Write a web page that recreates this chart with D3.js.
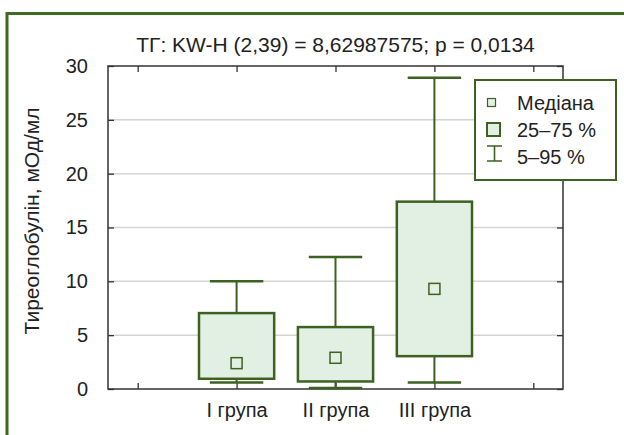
<!DOCTYPE html>
<html>
<head>
<meta charset="utf-8">
<script src="https://cdn.jsdelivr.net/npm/d3@7"></script>
<style>
  html, body { margin: 0; padding: 0; background: #fff; }
  svg text { font-family: "Liberation Sans", Arial, sans-serif; fill: #222; }
</style>
</head>
<body>
<svg id="chart" width="624" height="435"></svg>
<script>
"use strict";
var categories = ["I група", "II група", "III група"];
var p5 = [0.6, 0.1, 0.6];
var q25 = [0.95, 0.7, 3.05];
var medians = [2.4, 2.9, 9.3];
var q75 = [7.05, 5.75, 17.4];
var p95 = [10.0, 12.25, 28.9];
var yTicks = [0, 5, 10, 15, 20, 25, 30];
var xTicks = [0, 1, 2, 3, 4];
var legendLabels = ["Медіана", "25–75 %", "5–95 %"];
var titleText = "ТГ: KW-H (2,39) = 8,62987575; p = 0,0134";
var yTitle = "Тиреоглобулін, мОд/мл";

var green = "#3d6120", fill = "#e2f0e4", axisCol = "#333";
var svg = d3.select("#chart");

var m = { left: 108, right: 563, top: 66, bottom: 389 };
var x = d3.scaleLinear().domain([-0.3, 4.3]).range([m.left, m.right]);
var y = d3.scaleLinear().domain([0, 30]).range([m.bottom, m.top]);

// outer frame
svg.append("path").attr("d", "M7,435V13.5H624")
  .attr("fill", "none").attr("stroke", "#3e6b1f").attr("stroke-width", 3);

// grid
svg.append("g").selectAll("line").data(yTicks.slice(1, -1)).enter().append("line")
  .attr("x1", m.left).attr("x2", m.right)
  .attr("y1", function (d) { return y(d); }).attr("y2", function (d) { return y(d); })
  .attr("stroke", "#d4d4d4").attr("stroke-width", 1.5);

// axes (ticks inward on all sides)
function styleAxis(g) {
  g.select(".domain").remove();
  g.selectAll(".tick line").attr("stroke", axisCol).attr("stroke-width", 1.3);
  g.selectAll(".tick text").attr("font-size", 20).attr("fill", "#222")
    .attr("font-family", "Liberation Sans, Arial, sans-serif");
}
svg.append("g").attr("transform", "translate(" + m.left + ",0)")
  .call(d3.axisLeft(y).tickValues(yTicks).tickSize(-6).tickPadding(20))
  .call(styleAxis);
svg.append("g").attr("transform", "translate(" + m.right + ",0)")
  .call(d3.axisRight(y).tickValues(yTicks).tickSize(-6).tickFormat(""))
  .call(styleAxis);
svg.append("g").attr("transform", "translate(0," + m.top + ")")
  .call(d3.axisTop(x).tickValues(xTicks).tickSize(-6).tickFormat(""))
  .call(styleAxis);
svg.append("g").attr("transform", "translate(0," + m.bottom + ")")
  .call(d3.axisBottom(x).tickValues(xTicks).tickSize(-6).tickPadding(14)
    .tickFormat(function (d) { return categories[d - 1] || ""; }))
  .call(styleAxis);

svg.append("rect").attr("x", m.left).attr("y", m.top)
  .attr("width", m.right - m.left).attr("height", m.bottom - m.top)
  .attr("fill", "none").attr("stroke", axisCol).attr("stroke-width", 1.5);

// boxes
var boxW = x(0.38) - x(0), capW = x(0.27) - x(0);
var g = svg.append("g").selectAll("g").data(categories).enter().append("g");
g.append("line")
  .attr("x1", function (d, i) { return x(i + 1); }).attr("x2", function (d, i) { return x(i + 1); })
  .attr("y1", function (d, i) { return y(p5[i]); }).attr("y2", function (d, i) { return y(p95[i]); })
  .attr("stroke", green).attr("stroke-width", 2);
[p5, p95].forEach(function (arr) {
  g.append("line")
    .attr("x1", function (d, i) { return x(i + 1) - capW; }).attr("x2", function (d, i) { return x(i + 1) + capW; })
    .attr("y1", function (d, i) { return y(arr[i]); }).attr("y2", function (d, i) { return y(arr[i]); })
    .attr("stroke", green).attr("stroke-width", 2.5);
});
g.append("rect")
  .attr("x", function (d, i) { return x(i + 1) - boxW; })
  .attr("y", function (d, i) { return y(q75[i]); })
  .attr("width", 2 * boxW)
  .attr("height", function (d, i) { return y(q25[i]) - y(q75[i]); })
  .attr("fill", fill).attr("stroke", green).attr("stroke-width", 2.5);
g.append("rect")
  .attr("x", function (d, i) { return x(i + 1) - 5.5; })
  .attr("y", function (d, i) { return y(medians[i]) - 5.5; })
  .attr("width", 11).attr("height", 11)
  .attr("fill", fill).attr("stroke", green).attr("stroke-width", 1.5);

// title
svg.append("text").attr("x", (m.left + m.right) / 2).attr("y", 52)
  .attr("text-anchor", "middle").attr("font-size", 21).text(titleText);
svg.append("text").attr("transform", "translate(39,221) rotate(-90)")
  .attr("text-anchor", "middle").attr("font-size", 21).text(yTitle);

// legend
var lg = svg.append("g");
lg.append("rect").attr("x", 475).attr("y", 80).attr("width", 141).attr("height", 100)
  .attr("fill", "#fff").attr("stroke", green).attr("stroke-width", 2);
lg.append("rect").attr("x", 487.5).attr("y", 98.5).attr("width", 8).attr("height", 8)
  .attr("fill", fill).attr("stroke", green).attr("stroke-width", 1.2);
lg.append("rect").attr("x", 487).attr("y", 123).attr("width", 13).attr("height", 13)
  .attr("fill", fill).attr("stroke", green).attr("stroke-width", 2);
lg.append("path").attr("d", "M487,146H502M494.5,146V161M487,161H502")
  .attr("fill", "none").attr("stroke", green).attr("stroke-width", 1.6);
lg.selectAll("text.lab").data(legendLabels).enter().append("text")
  .attr("class", "lab").attr("x", 517).attr("y", function (d, i) { return 110 + i * 27; })
  .attr("font-size", 20).text(function (d) { return d; });
</script>
</body>
</html>
